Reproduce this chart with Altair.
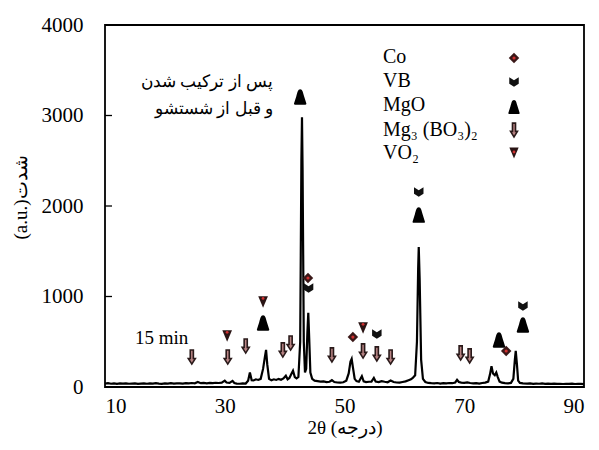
import altair as alt
import pandas as pd

# ---- spectrum (2theta, intensity) ----
two_theta = [10.0, 10.5, 11.0, 11.5, 12.0, 12.5, 13.0, 13.5, 14.0, 14.5, 15.0, 15.5, 16.0, 16.5, 17.0, 17.5,
             18.0, 18.5, 19.0, 19.5, 20.0, 20.5, 21.0, 21.5, 22.0, 22.5, 23.0, 23.5, 24.0, 24.5, 25.0, 25.5,
             26.0, 26.5, 27.0, 27.5, 28.0, 28.5, 29.0, 29.5, 30.0, 30.3, 30.8, 31.3, 31.6, 32.0, 32.5, 33.0,
             33.5, 33.9, 34.2, 34.5, 34.8, 35.2, 35.6, 36.0, 36.4, 36.7, 36.9, 37.1, 37.4, 37.8, 38.2, 38.6,
             39.0, 39.4, 39.8, 40.2, 40.5, 40.8, 41.1, 41.4, 41.7, 42.0, 42.3, 42.6, 42.8, 42.9, 43.0, 43.2,
             43.4, 43.6, 43.8, 43.95, 44.1, 44.3, 44.6, 45.0, 45.5, 46.0, 46.5, 47.0, 47.5, 47.9, 48.3, 48.8,
             49.3, 49.8, 50.3, 50.7, 51.0, 51.2, 51.4, 51.7, 52.0, 52.4, 52.9, 53.2, 53.6, 54.1, 54.5, 54.9,
             55.2, 55.7, 56.2, 56.7, 57.2, 57.7, 58.2, 58.7, 59.2, 59.7, 60.2, 60.7, 61.1, 61.4, 61.8, 62.1,
             62.3, 62.4, 62.55, 62.8, 63.1, 63.5, 64.0, 64.5, 65.0, 65.5, 66.0, 66.5, 67.0, 67.5, 68.0, 68.5,
             68.8, 69.1, 69.5, 70.0, 70.5, 71.0, 71.5, 72.0, 72.5, 73.0, 73.5, 74.0, 74.3, 74.55, 74.8, 75.1,
             75.35, 75.6, 75.9, 76.3, 76.8, 77.3, 77.8, 78.2, 78.45, 78.6, 78.8, 79.0, 79.3, 79.8, 80.5, 81.0,
             81.5, 82.0, 82.5, 83.0, 83.5, 84.0, 84.5, 85.0, 85.5, 86.0, 86.5, 87.0, 87.5, 88.0, 88.5, 89.0,
             89.5, 90.0]
intensity = [38, 42, 36, 40, 35, 39, 37, 41, 36, 38, 40, 35, 38, 41, 36, 39,
             37, 42, 38, 35, 40, 38, 42, 37, 39, 41, 38, 43, 40, 44, 41, 55,
             42, 45, 41, 46, 43, 47, 44, 48, 70, 50, 46, 68, 44, 38, 36, 40,
             38, 70, 160, 75, 72, 85, 78, 90, 200, 330, 410, 250, 90, 75, 85, 78,
             90, 80, 95, 125, 85, 100, 140, 180, 110, 95, 110, 500, 2500, 2980, 2400, 500,
             160, 200, 600, 820, 550, 160, 90, 70, 65, 60, 62, 55, 58, 75, 55, 50,
             48, 52, 70, 150, 280, 310, 220, 90, 65, 58, 120, 62, 55, 58, 60, 100,
             60, 55, 65, 58, 52, 72, 55, 50, 48, 55, 62, 75, 85, 100, 130, 500,
             1300, 1547, 1200, 300, 90, 55, 45, 42, 40, 44, 38, 42, 40, 44, 42, 50,
             80, 55, 48, 45, 50, 44, 40, 42, 38, 44, 48, 60, 140, 230, 150, 130,
             160, 110, 60, 48, 42, 40, 45, 90, 300, 400, 250, 70, 45, 40, 38, 40,
             35, 38, 36, 39, 34, 37, 35, 38, 34, 36, 33, 36, 34, 37, 33, 35,
             34, 32]

# ---- phase markers (2theta, intensity level of symbol) ----
co_x = [43.9, 51.4, 77.0]
co_y = [1204, 552, 398]
vb_x = [44.0, 55.4, 62.4, 79.8]
vb_y = [1094, 586, 2155, 895]
mgo_x = [36.4, 42.6, 62.4, 75.8, 79.8]
mgo_y = [707, 3204, 1900, 519, 685]
mgbo_x = [24.5, 30.5, 33.5, 39.7, 41.0, 47.9, 53.1, 55.4, 57.7, 69.4, 70.9]
mgbo_y = [331, 331, 453, 409, 486, 354, 398, 365, 331, 376, 343]
vo2_x = [30.4, 36.4, 53.1]
vo2_y = [564, 939, 652]

legend_labels = ["Co", "VB", "MgO", "Mg₃ (BO₃)₂", "VO₂"]
y_ticks = [0, 1000, 2000, 3000, 4000]
x_ticks = [10, 30, 50, 70, 90]
inner_ticks = [1000, 2000, 3000]

SERIF = "Liberation Serif"
xs = alt.Scale(domain=[10, 90], nice=False)
ys = alt.Scale(domain=[0, 4000], nice=False)

x_axis = alt.Axis(values=x_ticks, title="2θ (درجه)", grid=False, domain=False, ticks=False, format="d",
                  labelFont=SERIF, labelFontSize=21, labelColor="black", labelPadding=8,
                  titleFont=SERIF, titleFontSize=19, titleFontWeight="normal", titleColor="black",
                  titlePadding=2)
y_axis = alt.Axis(values=y_ticks, title="(a.u.)شدت", grid=False, domain=False, ticks=False, format="d",
                  labelFont=SERIF, labelFontSize=21, labelColor="black", labelPadding=22,
                  titleFont=SERIF, titleFontSize=19, titleFontWeight="normal", titleColor="black",
                  titleX=-75, titleY=172)

spec = pd.DataFrame({"x": two_theta, "y": intensity})

line = alt.Chart(spec).mark_line(color="black", strokeWidth=2.2).encode(
    x=alt.X("x:Q", scale=xs, axis=x_axis),
    y=alt.Y("y:Q", scale=ys, axis=y_axis),
)

ticks = alt.Chart(pd.DataFrame({"y": inner_ticks})).mark_rule(color="black", strokeWidth=1.3).encode(
    y=alt.Y("y:Q", scale=ys, axis=y_axis), x=alt.value(0), x2=alt.value(7))

DIAMOND = "diamond"
CHEVRON = "M-1,-1 L0,-0.35 L1,-1 L1,0.35 L0,1 L-1,0.35 Z"
BELL = "M0,-1 C0.3,-1 0.35,-0.6 0.5,-0.1 L0.8,0.85 C0.8,1 0.7,1 0.6,1 L-0.6,1 C-0.7,1 -0.8,1 -0.8,0.85 L-0.5,-0.1 C-0.35,-0.6 -0.3,-1 0,-1 Z"
ARROW = "M-0.22,-1 L0.22,-1 L0.22,0.2 L0.5,0.2 L0,1 L-0.5,0.2 L-0.22,0.2 Z"
TRI_DOWN = "M-0.85,-1 L0.85,-1 L0,1 Z"

ARROW_FILL = "#b98585"
ARROW_STROKE = "#2a1a1a"


def pts(xv, yv, **kw):
    df = pd.DataFrame({"x": xv, "y": yv})
    return alt.Chart(df).mark_point(**kw).encode(
        x=alt.X("x:Q", scale=xs, axis=x_axis), y=alt.Y("y:Q", scale=ys, axis=y_axis))


markers = [
    pts(co_x, co_y, shape=DIAMOND, filled=True, size=110, color="#3a1818", opacity=1),
    pts(co_x, co_y, shape="circle", filled=True, size=10, color="#d03030", opacity=1),
    pts(vb_x, vb_y, shape=CHEVRON, filled=True, size=90, color="#111111", opacity=1),
    pts(mgo_x, mgo_y, shape=BELL, filled=True, size=240, color="#000000", opacity=1),
    pts(mgbo_x, mgbo_y, shape=ARROW, filled=True, size=200, fill=ARROW_FILL, stroke=ARROW_STROKE,
        strokeWidth=1.6, opacity=1),
    pts(vo2_x, vo2_y, shape=TRI_DOWN, filled=True, size=130, color="#2a1414", opacity=1),
    pts(vo2_x, [v + 40 for v in vo2_y], shape="circle", filled=True, size=8, color="#d03030", opacity=1),
]

# ---- legend drawn as text + symbols ----
leg_y = [32, 56, 80, 105, 128]
legend_layers = []
for lab, yy in zip(legend_labels, leg_y):
    legend_layers.append(
        alt.Chart(pd.DataFrame({"t": [lab]})).mark_text(
            font=SERIF, fontSize=20, align="left", baseline="middle", color="black"
        ).encode(text="t:N", x=alt.value(278), y=alt.value(yy)))


def leg_sym(yy, **kw):
    return alt.Chart(pd.DataFrame({"t": [0]})).mark_point(**kw).encode(
        x=alt.value(409), y=alt.value(yy))


legend_layers += [
    leg_sym(33, shape=DIAMOND, filled=True, size=110, color="#3a1818", opacity=1),
    leg_sym(33, shape="circle", filled=True, size=10, color="#d03030", opacity=1),
    leg_sym(57, shape=CHEVRON, filled=True, size=90, color="#111111", opacity=1),
    leg_sym(82, shape=BELL, filled=True, size=200, color="#000000", opacity=1),
    leg_sym(105, shape=ARROW, filled=True, size=190, fill=ARROW_FILL, stroke=ARROW_STROKE,
            strokeWidth=1.6, opacity=1),
    leg_sym(128, shape=TRI_DOWN, filled=True, size=120, color="#2a1414", opacity=1),
    leg_sym(127, shape="circle", filled=True, size=8, color="#d03030", opacity=1),
]

# ---- annotations ----
ann_15 = alt.Chart(pd.DataFrame({"t": ["15 min"]})).mark_text(
    font=SERIF, fontSize=19, align="left", baseline="middle", color="black"
).encode(text="t:N", x=alt.value(30), y=alt.value(313))
ann_fa1 = alt.Chart(pd.DataFrame({"t": ["پس از ترکیب شدن"]})).mark_text(
    font=SERIF, fontSize=17, align="center", baseline="middle", color="black"
).encode(text="t:N", x=alt.value(102), y=alt.value(57))
ann_fa2 = alt.Chart(pd.DataFrame({"t": ["و قبل از شستشو"]})).mark_text(
    font=SERIF, fontSize=17, align="center", baseline="middle", color="black"
).encode(text="t:N", x=alt.value(109), y=alt.value(84))

chart = alt.layer(line, ticks, *markers, *legend_layers, ann_15, ann_fa1, ann_fa2).properties(
    width=479, height=362,
    autosize=alt.AutoSizeParams(type="none"),
    padding={"left": 97, "top": 17, "right": 7, "bottom": 55},
    background="white",
).configure_view(stroke="black", strokeWidth=1.8)

chart.save("out.html", embed_options={"renderer": "svg", "actions": False})
